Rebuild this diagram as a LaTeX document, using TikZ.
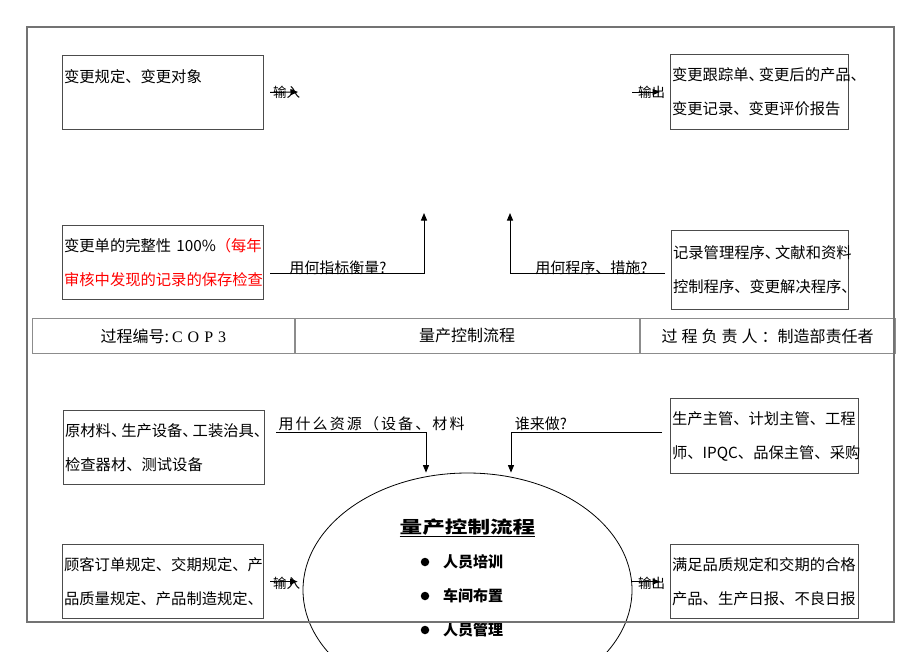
\documentclass[tikz,border=0pt]{standalone}
\usepackage{fontspec}
\setmainfont{Noto Sans CJK SC}
\newfontfamily\lserif{Liberation Serif}
\usetikzlibrary{shapes.geometric,arrows.meta,calc}
\definecolor{framegray}{gray}{0.45}
\definecolor{boxgray}{gray}{0.3}
\definecolor{tablegray}{gray}{0.55}
\newcommand\dn{\makebox[0.67em][l]{、}}
\makeatletter
\newcommand\spacedtext[2]{\@tfor\@chr:=#2\do{\@chr\kern#1}\unkern}
\makeatother
\begin{document}
\begin{tikzpicture}[x=1pt,y=-1pt,
  box/.style={draw=boxgray,line width=1.2pt,rectangle,anchor=north west,inner xsep=1.5pt,inner ysep=0pt,align=left,font=\fontsize{15.3}{34}\selectfont},
  lbl/.style={inner sep=0pt,font=\fontsize{15}{18}\selectfont},
  io/.style={inner sep=0pt,font=\fontsize{13.5}{16}\selectfont},
  cell/.style={draw=tablegray,line width=0.8pt,rectangle,anchor=north west,minimum height=35pt,inner sep=0pt,font=\fontsize{16}{19}\selectfont},
  conn/.style={line width=1pt,-{Triangle[length=7.5pt,width=6pt]}},
  dot/.style={circle,fill=black,inner sep=0pt,minimum size=8.5pt},
  item/.style={anchor=west,inner sep=0pt,font=\fontsize{15}{18}\selectfont\bfseries}
  ]
\clip (0,0) rectangle (920,651);
\fill[white] (0,0) rectangle (920,651);

% boxes
\node[box,minimum width=201pt,minimum height=74pt,text width=198pt] (A) at (62,55) {变更规定、变更对象\\\mbox{}};
\node[box,minimum width=178pt,minimum height=75pt,text width=175pt] (B) at (670,54) {变更跟踪单\dn 变更后的产品\dn\\变更记录、变更评价报告};
\node[box,minimum width=201pt,minimum height=74pt,text width=198pt] (C) at (62,225) {变更单的完整性 100\%\textcolor{red}{（每年}\\\textcolor{red}{审核中发现的记录的保存检查}};
\node[box,minimum width=177pt,minimum height=79pt,text width=174pt] (D) at (671,230) {记录管理程序\dn 文献和资料\\控制程序、变更解决程序\dn};
\node[box,minimum width=201pt,minimum height=74pt,text width=198pt] (E) at (63,410) {原材料\dn 生产设备\dn 工装治具\dn\\检查器材、测试设备};
\node[box,minimum width=188pt,minimum height=75pt,text width=185pt] (F) at (670,398) {生产主管、计划主管、工程\\师、IPQC、品保主管、采购};
\node[box,minimum width=201pt,minimum height=74pt,text width=198pt] (G) at (62,544) {顾客订单规定、交期规定、产\\品质量规定、产品制造规定、};
\node[box,minimum width=188pt,minimum height=74pt,text width=185pt] (H) at (670,544) {满足品质规定和交期的合格\\产品、生产日报、不良日报};

% table
\node[cell,minimum width=262pt] (t1) at (32,318) {过程编号:\kern3pt{\lserif\spacedtext{5pt}{COP3}}};
\node[cell,minimum width=344pt] (t2) at (t1.north east) {量产控制流程};
\node[cell,minimum width=255pt] (t3) at (t2.north east) {过\kern4pt程\kern4pt负\kern4pt责\kern4pt人\kern4pt：制造部责任者};

% process ellipse
\node[ellipse,draw,line width=0.8pt,minimum width=329pt,minimum height=234pt,inner sep=0pt] (P) at (467.5,590) {};
\node[inner sep=0pt,font=\fontsize{17}{20}\selectfont\bfseries] (Pt) at (467.5,528) {\scalebox{1.33}[1]{\underline{量产控制流程}}};
\node[dot] (d1) at (425,562) {};
\node[dot] (d2) at (425,596) {};
\node[dot] (d3) at (425,630) {};
\node[item] (i1) at (443,562) {人员培训};
\node[item] (i2) at (443,596) {车间布置};
\node[item] (i3) at (443,630) {人员管理};

% top input / output
\coordinate (inT) at (298,92);
\draw[conn,shorten <=6pt] (A.east) -- (inT);
\node[io] (linT) at (286.5,92) {输入};
\coordinate (outT) at (632,92);
\draw[conn,shorten >=10pt] (outT) -- (outT -| B.west);
\node[io] (loutT) at (651.5,92) {输出};

% measures / procedures
\coordinate (upL) at (424,213);
\draw[conn] ($(C.east)+(6,11)$) -| (upL);
\node[lbl] (q1) at (338,268) {用何指标衡量?};
\coordinate (upR) at (510,213);
\draw[conn] ($(D.west)+(-6,3.5)$) -| (upR);
\node[lbl] (q2) at (591.5,268) {用何程序、措施?};

% resources / who
\draw[conn] ($(E.east)+(11,-15)$) -| ($(P.north)+(-41.5,0)$);
\node[lbl] (q3) at (371.5,424) {\spacedtext{2.1pt}{用什么资源（设备、材料}};
\draw[conn] ($(F.west)+(-8,-3.5)$) -| ($(P.north)+(43.5,0)$);
\node[lbl] (q4) at (541,424) {谁来做?};

% bottom input / output
\draw[conn,shorten <=6pt,shorten >=5pt] (G.east) -- (G.east -| P.west);
\node[io] (linB) at (286.5,583) {输入};
\draw[conn,shorten >=10pt] (H.west -| P.east) -- (H.west);
\node[io] (loutB) at (651.5,583) {输出};

% outer frame
\draw[framegray,line width=2pt] (27,27) rectangle (894,622);
\end{tikzpicture}
\end{document}
